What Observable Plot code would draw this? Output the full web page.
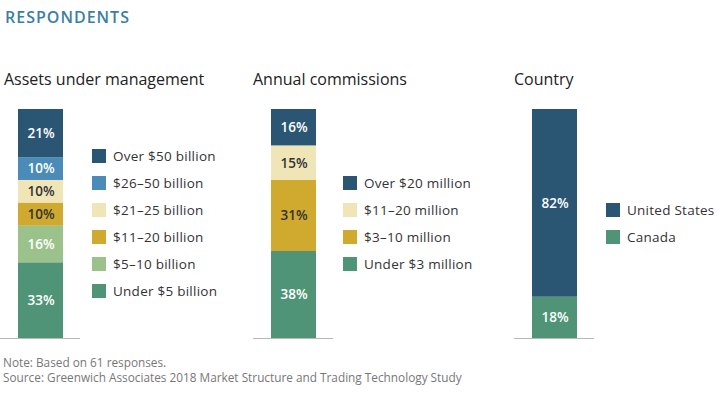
<!DOCTYPE html>
<html>
<head>
<meta charset="utf-8">
<script src="https://cdn.jsdelivr.net/npm/d3@7"></script>
<script src="https://cdn.jsdelivr.net/npm/@observablehq/plot@0.6"></script>
<style>
  html, body { margin: 0; padding: 0; background: #fff; }
  body { font-family: "Open Sans", sans-serif; color: #222; }
  #chart { position: relative; width: 720px; height: 395px; overflow: hidden; }
  .title { position: absolute; left: 5px; top: 6px; font-size: 16px; font-weight: 600; color: #3b7ea6; letter-spacing: 1px; }
  .sub { position: absolute; top: 68px; font-size: 16px; color: #222; white-space: nowrap; }
  .plot { position: absolute; top: 109px; }
  .legend { position: absolute; top: 109px; height: 229px; display: flex; flex-direction: column; justify-content: center; }
  .row { height: 27.2px; display: flex; align-items: center; font-size: 13.5px; letter-spacing: 0.25px; color: #333; white-space: nowrap; }
  .sw { width: 14px; height: 14px; margin-right: 7px; flex: none; }
  .note { position: absolute; left: 3px; top: 355px; font-size: 11.8px; line-height: 15px; color: #777; }
</style>
</head>
<body>
<div id="chart"></div>
<script>
// ---- data ----
const aumCategories = ["Over $50 billion", "$26–50 billion", "$21–25 billion", "$11–20 billion", "$5–10 billion", "Under $5 billion"];
const aumValues = [21, 10, 10, 10, 16, 33];
const commCategories = ["Over $20 million", "$11–20 million", "$3–10 million", "Under $3 million"];
const commValues = [16, 15, 31, 38];
const countryCategories = ["United States", "Canada"];
const countryValues = [82, 18];
const panelTitles = ["Assets under management", "Annual commissions", "Country"];

// ---- styles ----
const C = {
  dark: "#2a5573", mid: "#4a8cb7", beige: "#efe5b7", gold: "#cfaa2e", lgreen: "#9cc28b", teal: "#4f9477"
};
const panels = [
  { title: panelTitles[0], cats: aumCategories, vals: aumValues, left: 0, subLeft: 4,
    colors: [C.dark, C.mid, C.beige, C.gold, C.lgreen, C.teal],
    labels: ["#fff", "#fff", "#333", "#333", "#fff", "#fff"], legendLeft: 92 },
  { title: panelTitles[1], cats: commCategories, vals: commValues, left: 253, subLeft: 0,
    colors: [C.dark, C.beige, C.gold, C.teal],
    labels: ["#fff", "#333", "#333", "#fff"], legendLeft: 90 },
  { title: panelTitles[2], cats: countryCategories, vals: countryValues, left: 514, subLeft: 0,
    colors: [C.dark, C.teal],
    labels: ["#fff", "#fff"], legendLeft: 92 }
];

const chart = document.getElementById("chart");
const title = document.createElement("div");
title.className = "title";
title.textContent = "RESPONDENTS";
chart.appendChild(title);

panels.forEach(p => {
  const rows = p.cats.map((c, i) => ({ panel: p.title, cat: c, value: p.vals[i] }));
  const labelColor = new Map(p.cats.map((c, i) => [c, p.labels[i]]));

  const sub = document.createElement("div");
  sub.className = "sub";
  sub.style.left = (p.left + p.subLeft) + "px";
  sub.textContent = p.title;
  chart.appendChild(sub);

  const plot = Plot.plot({
    width: 80, height: 230,
    marginTop: 0, marginBottom: 1, marginLeft: 0, marginRight: 0,
    style: { fontFamily: "Open Sans, sans-serif", background: "transparent" },
    x: { axis: null, domain: [p.title], padding: 0 },
    y: { axis: null, domain: [0, 100] },
    color: { domain: p.cats, range: p.colors },
    marks: [
      Plot.barY(rows, Plot.stackY({ x: "panel", y: "value", fill: "cat", reverse: true, insetLeft: 18, insetRight: 17 })),
      Plot.text(rows, Plot.stackY({ x: "panel", y: "value", reverse: true, dx: 0.5,
        text: d => d.value + "%", fill: d => labelColor.get(d.cat), fontSize: 13.5, fontWeight: 600 })),
      Plot.ruleY([0], { stroke: "#b8b8b8", strokeWidth: 1 })
    ]
  });
  const wrap = document.createElement("div");
  wrap.className = "plot";
  wrap.style.left = p.left + "px";
  wrap.appendChild(plot);
  chart.appendChild(wrap);

  const leg = document.createElement("div");
  leg.className = "legend";
  leg.style.left = (p.left + p.legendLeft) + "px";
  p.cats.forEach((c, i) => {
    const r = document.createElement("div");
    r.className = "row";
    const sw = document.createElement("span");
    sw.className = "sw";
    sw.style.background = p.colors[i];
    r.appendChild(sw);
    r.appendChild(document.createTextNode(c));
    leg.appendChild(r);
  });
  chart.appendChild(leg);
});

const note = document.createElement("div");
note.className = "note";
note.innerHTML = "Note: Based on 61 responses.<br>Source: Greenwich Associates 2018 Market Structure and Trading Technology Study";
chart.appendChild(note);
</script>
</body>
</html>
